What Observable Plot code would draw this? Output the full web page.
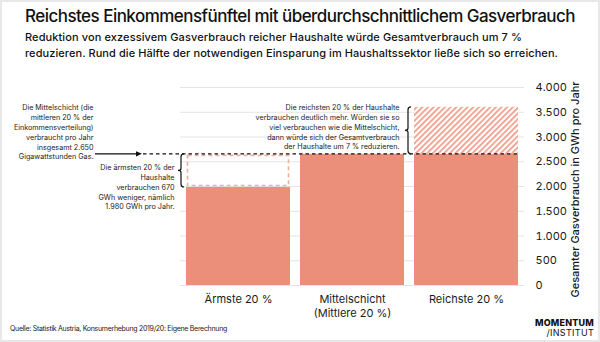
<!DOCTYPE html>
<html>
<head>
<meta charset="utf-8">
<script src="https://cdn.jsdelivr.net/npm/d3@7"></script>
<script src="https://cdn.jsdelivr.net/npm/@observablehq/plot@0.6"></script>
<style>
  html, body { margin: 0; padding: 0; background: #fff; }
  #wrap { position: relative; width: 600px; height: 342px; overflow: hidden; font-family: Inter, "Noto Sans", sans-serif; color: #1a1a1a; }
  #frame { position: absolute; left: 0; top: 0; width: 600px; height: 342px; box-sizing: border-box; border: 2px solid #e8e8e8; pointer-events: none; z-index: 5; }
  .line { position: absolute; white-space: nowrap; display: inline-block; }
  #title { left: 25px; top: 8px; font-size: 17px; line-height: 17px; font-weight: 500; color: #111; }
  #sub1 { left: 25px; top: 29px; font-size: 11px; line-height: 16px; font-weight: 500; color: #111; }
  #sub2 { left: 25px; top: 45px; font-size: 11px; line-height: 16px; font-weight: 500; color: #111; }
  #chart { position: absolute; left: 0; top: 70px; }
  #caption { left: 10px; top: 325px; font-size: 7px; line-height: 8px; color: #222; }
  #logo1 { right: 6px; top: 318px; font-size: 9px; line-height: 9px; font-weight: 800; letter-spacing: 0.2px; color: #111; }
  #logo2 { right: 6px; top: 328px; font-size: 9px; line-height: 9px; font-weight: 400; letter-spacing: 0.3px; color: #111; }
</style>
</head>
<body>
<svg width="0" height="0" style="position:absolute">
  <defs>
    <pattern id="hatch" patternUnits="userSpaceOnUse" width="4" height="4" patternTransform="rotate(45)">
      <rect width="4" height="4" fill="#ffffff"></rect>
      <rect width="1.7" height="4" fill="#ee9a86"></rect>
    </pattern>
  </defs>
</svg>
<div id="wrap">
  <div id="frame"></div>
  <div id="title" class="line"></div>
  <div id="sub1" class="line"></div>
  <div id="sub2" class="line"></div>
  <div id="chart"></div>
  <div id="caption" class="line"></div>
  <div id="logo1" class="line">MOMENTUM</div>
  <div id="logo2" class="line">/INSTITUT</div>
</div>
<script>
// ---- texts ----
const titleText = "Reichstes Einkommensfünftel mit überdurchschnittlichem Gasverbrauch";
const subtitleLines = [
  "Reduktion von exzessivem Gasverbrauch reicher Haushalte würde Gesamtverbrauch um 7 %",
  "reduzieren. Rund die Hälfte der notwendigen Einsparung im Haushaltssektor ließe sich so erreichen."
];
const captionText = "Quelle: Statistik Austria, Konsumerhebung 2019/20: Eigene Berechnung";
const yLabel = "Gesamter Gasverbrauch in GWh pro Jahr";

// ---- data ----
const categories = ["Ärmste 20 %", "Mittelschicht\n(Mittlere 20 %)", "Reichste 20 %"];
const consumption = [1980, 2650, 3600];   // GWh pro Jahr
const middleLevel = 2650;                  // Verbrauch der Mittelschicht
const yTicks = [0, 500, 1000, 1500, 2000, 2500, 3000, 3500, 4000];

const deFormat = d3.formatLocale({decimal: ",", thousands: ".", grouping: [3], currency: ["", " €"]}).format(",");

const rows = categories.map((c, i) => ({group: c, value: consumption[i]}));

const noteMiddle = [{group: categories[0], value: middleLevel,
  text: `Die Mittelschicht (die\nmittleren 20 % der\nEinkommensverteilung)\nverbraucht pro Jahr\ninsgesamt ${deFormat(middleLevel)}\nGigawattstunden Gas.`}];
const notePoor = [{group: categories[0], value: middleLevel,
  text: `Die ärmsten 20 % der\nHaushalte\nverbrauchen ${deFormat(middleLevel - consumption[0])}\nGWh weniger, nämlich\n${deFormat(consumption[0])} GWh pro Jahr.`}];
const noteRich = [{group: categories[2], value: consumption[2],
  text: "Die reichsten 20 % der Haushalte\nverbrauchen deutlich mehr. Würden sie so\nviel verbrauchen wie die Mittelschicht,\ndann würde sich der Gesamtverbrauch\nder Haushalte um 7 % reduzieren."}];

// ---- header / footer ----
document.getElementById("title").textContent = titleText;
document.getElementById("sub1").textContent = subtitleLines[0];
document.getElementById("sub2").textContent = subtitleLines[1];
document.getElementById("caption").textContent = captionText;

function fit(id, target) {
  const el = document.getElementById(id);
  const w = el.getBoundingClientRect().width;
  const n = el.textContent.length;
  el.style.letterSpacing = ((target - w) / n) + "px";
}
fit("title", 550);
fit("sub1", 497);
fit("sub2", 533);
fit("caption", 217);

// ---- brace / arrow helper drawn through the plot's scales ----
function bracePath(xv, yTop, yBot) {
  const ym = (yTop + yBot) / 2;
  return `M${xv + 3},${yTop} Q${xv},${yTop} ${xv},${yTop + 3} L${xv},${ym - 2} Q${xv},${ym} ${xv - 3},${ym} Q${xv},${ym} ${xv},${ym + 2} L${xv},${yBot - 3} Q${xv},${yBot} ${xv + 3},${yBot}`;
}

function guides(index, scales) {
  const x = scales.x, y = scales.y;
  const bw = x.bandwidth();
  const yMid = y(middleLevel);
  const x0 = x(categories[0]);
  const x2 = x(categories[2]);
  const g = d3.create("svg:g").attr("fill", "none").attr("stroke", "#111");
  g.append("line").attr("x1", x0 - 91).attr("x2", x0 - 50).attr("y1", yMid).attr("y2", yMid).attr("stroke-width", 1.3);
  g.append("path").attr("d", `M${x0 - 44},${yMid} l-6,-2.6 v5.2 z`).attr("fill", "#111").attr("stroke", "none");
  g.append("line").attr("x1", x0 - 43).attr("x2", x2 + bw).attr("y1", yMid).attr("y2", yMid)
    .attr("stroke-width", 1.3).attr("stroke-dasharray", "3.5,3");
  g.append("path").attr("d", bracePath(x0 - 5, yMid, y(consumption[0]))).attr("stroke-width", 1.2);
  g.append("path").attr("d", bracePath(x2 - 6, y(consumption[2]), yMid)).attr("stroke-width", 1.2);
  return g.node();
}

const salmon = "#ec8f7a";
const noteStyle = {x: "group", y: "value", text: "text", textAnchor: "end", fontSize: 7.2, lineHeight: 1.36, fill: "#1a1a1a"};

const chart = Plot.plot({
  width: 600,
  height: 248,
  marginTop: 17,
  marginBottom: 33,
  marginLeft: 180,
  marginRight: 76,
  style: {fontFamily: "Inter, 'Noto Sans', sans-serif", color: "#1a1a1a", background: "transparent", overflow: "visible"},
  x: {domain: categories, paddingInner: 0.087, paddingOuter: 0.04, label: null},
  y: {domain: [0, 4000], label: null},
  marks: [
    Plot.gridY(yTicks, {stroke: "#e4e4e4", strokeOpacity: 1, strokeWidth: 1}),
    Plot.axisY(yTicks, {anchor: "right", tickSize: 0, tickPadding: 11, tickFormat: deFormat, label: null, fontSize: 11, fill: "#1a1a1a"}),
    Plot.axisX({tickSize: 0, tickPadding: 8, label: null, fontSize: 11, lineHeight: 1.27, fill: "#1a1a1a"}),
    Plot.text([yLabel], {frameAnchor: "right", textAnchor: "middle", lineAnchor: "middle", rotate: -90, dx: 51, dy: 3, fontSize: 11, fontWeight: 500, fill: "#1a1a1a"}),
    Plot.barY(rows, {x: "group", y: d => Math.min(d.value, middleLevel), fill: salmon}),
    Plot.rectY(rows.filter(d => d.value < middleLevel), {x: "group", y1: "value", y2: () => middleLevel, fill: "none", stroke: "#f2ae9e", strokeWidth: 1.6, strokeDasharray: "4,3", inset: 1.5}),
    Plot.rectY(rows.filter(d => d.value > middleLevel), {x: "group", y1: () => middleLevel, y2: "value", fill: "url(#hatch)"}),
    guides,
    Plot.text(noteMiddle, {...noteStyle, lineAnchor: "bottom", dx: -145, dy: 5}),
    Plot.text(notePoor, {...noteStyle, lineAnchor: "top", dx: -64, dy: 9}),
    Plot.text(noteRich, {...noteStyle, lineAnchor: "top", dx: -67, dy: -4})
  ]
});
document.getElementById("chart").appendChild(chart);
</script>
</body>
</html>
